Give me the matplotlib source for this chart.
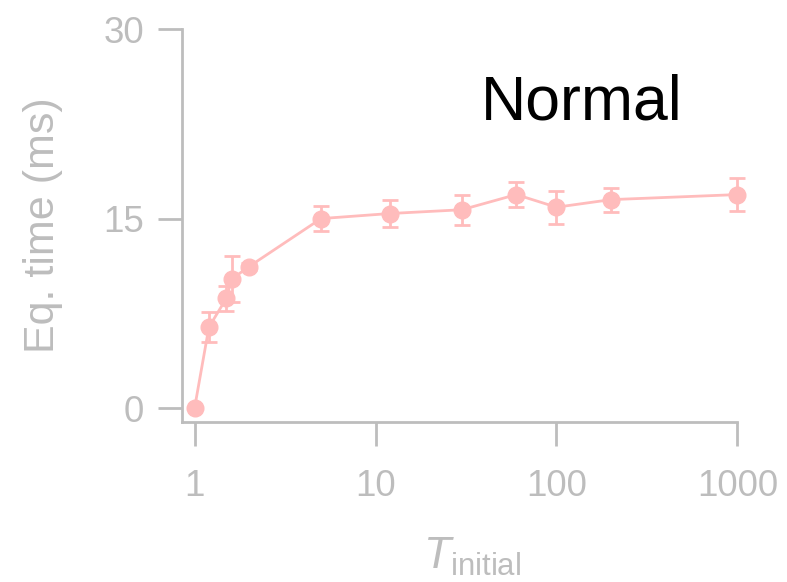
import matplotlib.pyplot as plt
import numpy as np

plt.rcParams['font.family'] = ['Liberation Sans', 'DejaVu Sans']
plt.rcParams['mathtext.fontset'] = 'custom'
plt.rcParams['mathtext.rm'] = 'Liberation Sans'
plt.rcParams['mathtext.it'] = 'Liberation Sans:italic'

t_initial = [1, 1.2, 1.5, 1.6, 2, 5, 12, 30, 60, 100, 200, 1000]
eq_time = [0.0, 6.4, 8.7, 10.2, 11.2, 15.0, 15.4, 15.7, 16.9, 15.9, 16.5, 16.9]
eq_err = [0.0, 1.2, 1.0, 1.8, 0.3, 1.0, 1.1, 1.2, 1.0, 1.3, 0.95, 1.3]

xticks = [1, 10, 100, 1000]
xticklabels = ['1', '10', '100', '1000']
yticks = [0, 15, 30]

pink = '#ffbcbc'
gray = '#bdbdbd'

fig = plt.figure(figsize=(7.87, 5.82), dpi=100)
ax = fig.add_axes([0.231, 0.275, 0.706, 0.675])

ax.errorbar(t_initial, eq_time, yerr=eq_err, color=pink, marker='o',
            markersize=12, linewidth=2, elinewidth=2, capsize=5.5, capthick=2,
            clip_on=False)

ax.set_xscale('log')
ax.set_xlim(0.85, 1000)
ax.set_ylim(-1.1, 30)
ax.set_xticks(xticks)
ax.set_xticklabels(xticklabels)
ax.minorticks_off()
ax.set_yticks(yticks)

for side in ['top', 'right']:
    ax.spines[side].set_visible(False)
for side in ['left', 'bottom']:
    ax.spines[side].set_color(gray)
    ax.spines[side].set_linewidth(2)

ax.tick_params(axis='both', colors=gray, labelcolor=gray, labelsize=26.5,
               length=17, width=2, direction='out')
ax.tick_params(axis='x', pad=17)
ax.tick_params(axis='y', pad=10)

ax.set_ylabel('Eq. time (ms)', color=gray, fontsize=31)
ax.yaxis.set_label_coords(-0.213, 0.5)
ax.set_xlabel(r'$T_{\mathrm{initial}}$', color=gray, fontsize=32)
ax.xaxis.set_label_coords(0.523, -0.29)

ax.text(0.719, 0.771, 'Normal', transform=ax.transAxes, fontsize=45,
        color='black', ha='center', va='baseline')

fig.savefig('out.png', dpi=100)
